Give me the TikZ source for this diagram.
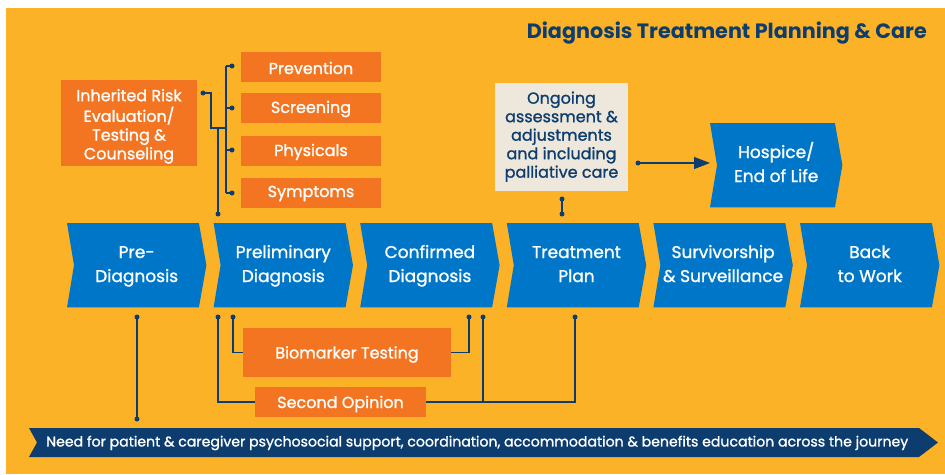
\documentclass[tikz,border=0pt]{standalone}
\usepackage{fontspec}
\setmainfont{Poppins}
\newfontfamily\medfont{Poppins}[FakeBold=1.2]
\usetikzlibrary{arrows.meta,calc}
\definecolor{ybg}{HTML}{FBB226}
\definecolor{orng}{HTML}{F37421}
\definecolor{cblue}{HTML}{0076C8}
\definecolor{navy}{HTML}{0D3D6E}
\definecolor{beige}{HTML}{EEE7DC}
\pgfdeclarelayer{bg}
\pgfsetlayers{bg,main}
\tikzset{
  obox/.style={fill=orng, text=white, align=center, inner sep=0pt, font=\medfont\fontsize{16pt}{18.7pt}\selectfont},
  chevtext/.style={text=white, align=center, inner sep=0pt, font=\medfont\fontsize{17pt}{24pt}\selectfont},
  ln/.style={draw=navy, line width=1.2pt},
  dotc/.style={fill=navy},
}
\newcommand\lowr[2]{\raisebox{-#1}[\height][\depth]{#2}}
\newcommand\mychev[4]{%
  \node[chevtext, minimum width=#4, minimum height=84pt, anchor=north west] (#1) at (#2) {#3};
  \begin{pgfonlayer}{bg}
  \fill[cblue] (#1.north west) -- ($(#1.north east)+(-7.5,0)$) -- (#1.east) -- ($(#1.south east)+(-7.5,0)$) -- (#1.south west) -- ($(#1.west)+(7,0)$) -- cycle;
  \end{pgfonlayer}}
\newcommand\mydot[1]{\fill[dotc] (#1) circle[radius=2.5pt];}
\begin{document}
\begin{tikzpicture}[x=1pt,y=-1pt]
\useasboundingbox (0,0) rectangle (945,474);
\begin{pgfonlayer}{bg}
\fill[ybg] (6,8) rectangle (945,474);
\end{pgfonlayer}
% title
\node[anchor=base east, text=navy, inner sep=0pt, font=\fontsize{20pt}{22pt}\selectfont\bfseries] (title) at (927,38) {\resizebox{400pt}{!}{Diagnosis Treatment Planning \& Care}};
% left boxes
\node[obox, minimum width=136pt, minimum height=86pt] (irisk) at (129,123) {\lowr{3.5pt}{\begin{tabular}{@{}c@{}}\strut Inherited Risk\\\strut Evaluation/\\\strut Testing \&\\\strut Counseling\end{tabular}}};
\node[obox, minimum width=140pt, minimum height=30pt] (prev) at (311,67) {\lowr{1pt}{Prevention}};
\node[obox, minimum width=140pt, minimum height=30pt] (scr) at (311,108) {\lowr{1pt}{Screening}};
\node[obox, minimum width=140pt, minimum height=30pt] (phys) at (311,151) {\lowr{1pt}{Physicals}};
\node[obox, minimum width=140pt, minimum height=30pt] (symp) at (311,192.5) {\lowr{1pt}{Symptoms}};
% chevrons
\mychev{c1}{67,223}{\strut Pre-\\\strut Diagnosis}{139pt}
\mychev{c2}{213.6,223}{\strut Preliminary\\\strut Diagnosis}{139pt}
\mychev{c3}{360.2,223}{\strut Confirmed\\\strut Diagnosis}{139pt}
\mychev{c4}{506.8,223}{\strut Treatment\\\strut Plan}{139pt}
\mychev{c5}{653.4,223}{\strut Survivorship\\\strut\& Surveillance}{139pt}
\mychev{c6}{800,223}{\strut Back\\\strut to Work}{139pt}
\mychev{hosp}{710,123}{\strut Hospice/\\\strut End of Life}{132pt}
% ongoing box
\node[fill=beige, text=navy, align=center, inner sep=0pt, minimum width=133pt, minimum height=108pt, font=\medfont\fontsize{16pt}{18.5pt}\selectfont] (ong) at (561.5,137) {\strut Ongoing\\\strut assessment \&\\\strut adjustments\\\strut and including\\\strut palliative care};
% bottom boxes
\node[obox, minimum width=208pt, minimum height=49pt] (bio) at (347,352.5) {\lowr{2pt}{Biomarker Testing}};
\node[obox, minimum width=171pt, minimum height=30pt] (sec) at (340.5,402) {\lowr{2pt}{Second Opinion}};
% banner
\node[text=white, inner sep=0pt, anchor=west, font=\medfont\fontsize{14pt}{16pt}\selectfont] (ban) at (46,443) {\resizebox{862pt}{\height}{Need for patient \& caregiver psychosocial support, coordination, accommodation \& benefits education across the journey}};
\begin{pgfonlayer}{bg}
\fill[navy] (29,428) -- (919,428) -- (938,442.5) -- (919,457) -- (29,457) -- (37,442.5) -- cycle;
\end{pgfonlayer}
% coordinates
\coordinate (dIR) at (203,93);
\coordinate (jIR) at (226,128);
\coordinate (busT) at (226,66);
\coordinate (busB) at (226,193);
\coordinate (dPrev) at (232,66);
\coordinate (dScr) at (232,108);
\coordinate (dPhys) at (232,150);
\coordinate (dSymp) at (232,193);
\coordinate (j2) at (218,128);
\coordinate (dC2top) at (218,214);
\coordinate (dOng) at (562,199);
\coordinate (dC4top) at (562,214);
\coordinate (dArr) at (638,163);
\coordinate (arrTip) at (710,163);
\coordinate (dC1b) at (137,317);
\coordinate (dBan) at (137,419);
\coordinate (dC2a) at (218,317);
\coordinate (dC2b) at (233,317);
\coordinate (dC3a) at (469,317);
\coordinate (dC3b) at (483,317);
\coordinate (dC4b) at (575,317);
% top-left connectors
\draw[ln] (dIR) -- ++(8,0) |- (jIR);
\draw[ln] (busT) -- (busB);
\draw[ln] (busT) -- (dPrev);
\draw[ln] (busT |- dScr) -- (dScr);
\draw[ln] (busT |- dPhys) -- (dPhys);
\draw[ln] (busT |- dSymp) -- (dSymp);
\draw[ln] (j2) -- (dC2top);
\foreach \p in {dIR,dPrev,dScr,dPhys,dSymp,dC2top} {\mydot{\p}}
% ongoing connectors
\draw[ln] (dOng) -- (dC4top);
\mydot{dOng}\mydot{dC4top}
\draw[ln, -{Triangle[length=16pt,width=12pt]}] (dArr) -- (arrTip);
\mydot{dArr}
% bottom connectors
\draw[ln] (dC1b) -- (dBan);
\draw[ln] (dC2a) |- (sec.west);
\draw[ln] (dC2b) |- (bio.west);
\draw[ln] (bio.east) -| (dC3a);
\draw[ln] (sec.east) -| (dC4b);
\draw[ln] (dC3b) -- (dC3b |- sec.east);
\foreach \p in {dC1b,dBan,dC2a,dC2b,dC3a,dC3b,dC4b} {\mydot{\p}}
\end{tikzpicture}
\end{document}
